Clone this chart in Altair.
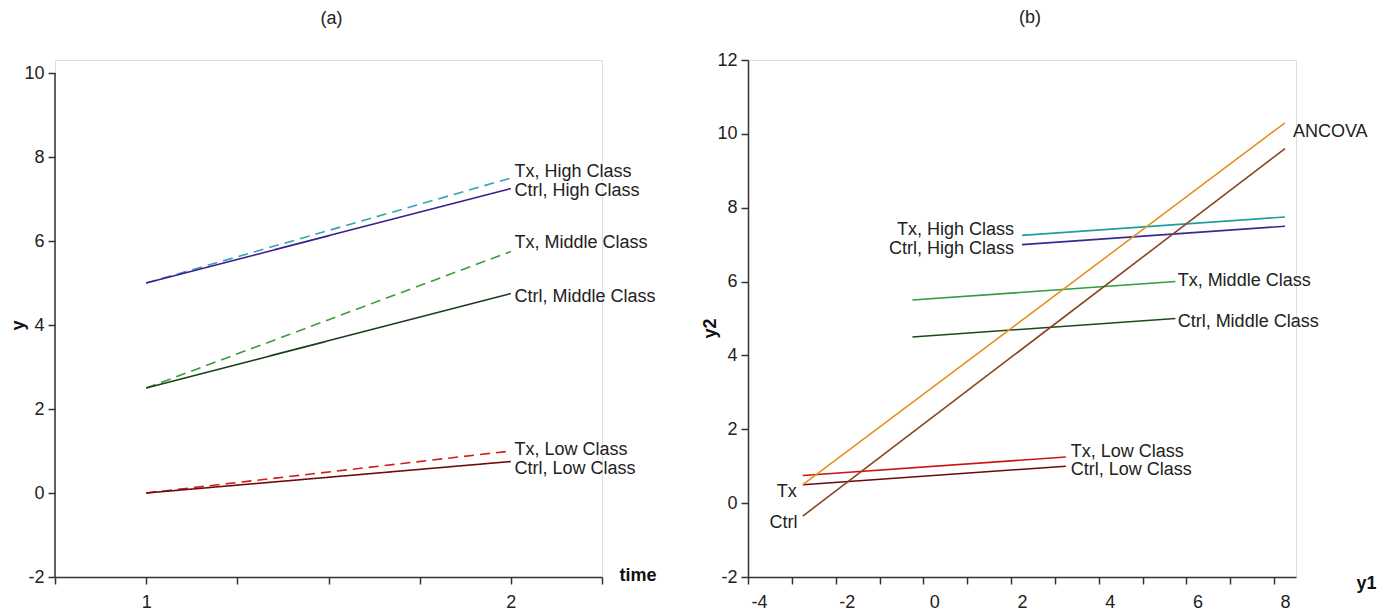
import altair as alt
import pandas as pd

FONT = "Liberation Sans"
FS = 18

# ---------------- Panel (a) data ----------------
a_series = ["Tx, High Class", "Ctrl, High Class", "Tx, Middle Class",
            "Ctrl, Middle Class", "Tx, Low Class", "Ctrl, Low Class"]
a_time_start = [1, 1, 1, 1, 1, 1]
a_time_end = [2, 2, 2, 2, 2, 2]
a_y_start = [5.0, 5.0, 2.5, 2.5, 0.0, 0.0]
a_y_end = [7.5, 7.25, 5.75, 4.75, 1.0, 0.75]
a_style = ["dash", "solid", "dash", "solid", "dash", "solid"]
a_colors = ["#35a3b3", "#3b1f8f", "#3a9e3a", "#1d3d1d", "#d41c1c", "#6e0c0c"]
a_label_x = [2.01, 2.01, 2.01, 2.01, 2.01, 2.01]
a_label_y = [7.64, 7.19, 5.95, 4.67, 1.02, 0.57]

# ---------------- Panel (b) data ----------------
b_series = ["Tx, High Class", "Ctrl, High Class", "Tx, Middle Class",
            "Ctrl, Middle Class", "Tx, Low Class", "Ctrl, Low Class",
            "ANCOVA Tx", "ANCOVA Ctrl"]
b_x_start = [2.0, 2.0, -0.5, -0.5, -3.0, -3.0, -3.0, -3.0]
b_x_end = [8.0, 8.0, 5.5, 5.5, 3.0, 3.0, 8.0, 8.0]
b_y_start = [7.25, 7.0, 5.5, 4.5, 0.75, 0.5, 0.5, -0.35]
b_y_end = [7.75, 7.5, 6.0, 5.0, 1.25, 1.0, 10.3, 9.6]
b_colors = ["#1f9e9e", "#3b2894", "#2e9e3e", "#1a4a1a", "#cc1414", "#6a0a0a",
            "#e8901e", "#8b4420"]

b_label_text_r = ["Tx, High Class", "Ctrl, High Class", "Tx", "Ctrl"]
b_label_x_r = [1.82, 1.82, -3.14, -3.12]
b_label_y_r = [7.39, 6.88, 0.30, -0.54]

b_label_text_l = ["Tx, Middle Class", "Ctrl, Middle Class", "Tx, Low Class",
                  "Ctrl, Low Class", "ANCOVA"]
b_label_x_l = [5.55, 5.55, 3.11, 3.11, 8.18]
b_label_y_l = [6.01, 4.90, 1.38, 0.90, 10.04]

a_xticks = [0.75, 1.0, 1.25, 1.5, 1.75, 2.0, 2.25]
a_yticks = [-2, 0, 2, 4, 6, 8, 10]
a_ydomain = [-2, 10.31]
b_xticks = [-4.25 + 0.5 * k for k in range(26)]
b_yticks = [-2, 0, 2, 4, 6, 8, 10, 12]

# ---------------- build tables ----------------
a_rows = []
for s, x0, x1, y0, y1, st in zip(a_series, a_time_start, a_time_end, a_y_start, a_y_end, a_style):
    a_rows.append({"series": s, "x": x0, "y": y0, "style": st})
    a_rows.append({"series": s, "x": x1, "y": y1, "style": st})
a_df = pd.DataFrame(a_rows)
a_lab = pd.DataFrame({"text": a_series, "x": a_label_x, "y": a_label_y})
a_axis_line = pd.DataFrame({"x": [a_xticks[0]], "y": [a_yticks[0]], "y2": [a_yticks[-1]]})

b_rows = []
for s, x0, x1, y0, y1 in zip(b_series, b_x_start, b_x_end, b_y_start, b_y_end):
    b_rows.append({"series": s, "x": x0, "y": y0})
    b_rows.append({"series": s, "x": x1, "y": y1})
b_df = pd.DataFrame(b_rows)
b_lab_r = pd.DataFrame({"text": b_label_text_r, "x": b_label_x_r, "y": b_label_y_r})
b_lab_l = pd.DataFrame({"text": b_label_text_l, "x": b_label_x_l, "y": b_label_y_l})

AXIS_COLOR = "#333333"
TEXT_COLOR = "#222222"
axis_common = dict(
    grid=False, domainColor=AXIS_COLOR, tickColor=AXIS_COLOR, domainWidth=1.5,
    tickWidth=1.5, tickSize=7, labelFont=FONT, labelFontSize=FS,
    labelColor=TEXT_COLOR, titleFont=FONT, titleFontSize=FS, titleFontWeight="bold",
    titleColor="#111111", labelOverlap=False, labelFlush=False,
)

# ---------------- Panel (a) ----------------
a_x = alt.X("x:Q", scale=alt.Scale(domain=[0.75, 2.25], nice=False, zero=False),
            axis=alt.Axis(values=a_xticks, title="time",
                          labelExpr="(datum.value == 1 || datum.value == 2) ? ('' + datum.value) : ''",
                          titleX=564, titleY=-2, titleAlign="left", titleBaseline="middle",
                          titleAngle=0, labelPadding=9, **axis_common))
a_y = alt.Y("y:Q", scale=alt.Scale(domain=a_ydomain, nice=False, zero=False),
            axis=alt.Axis(values=a_yticks, labelExpr="'' + datum.value", title="y",
                          titleX=-37, titleY=265, domain=False,
                          titleAlign="center", titleBaseline="middle", labelPadding=4,
                          **axis_common))

a_lines = alt.Chart(a_df).mark_line(strokeWidth=1.6).encode(
    x=a_x, y=a_y,
    color=alt.Color("series:N", scale=alt.Scale(domain=a_series, range=a_colors), legend=None),
    strokeDash=alt.StrokeDash("style:N", scale=alt.Scale(domain=["dash", "solid"], range=[[10, 6], [1, 0]]), legend=None),
    detail="series:N",
)
a_yline = alt.Chart(a_axis_line).mark_rule(color=AXIS_COLOR, strokeWidth=1.5).encode(
    x="x:Q", y="y:Q", y2="y2:Q")
a_text = alt.Chart(a_lab).mark_text(align="left", baseline="middle", font=FONT,
                                    fontSize=FS, color=TEXT_COLOR).encode(
    x="x:Q", y="y:Q", text="text:N")

chart_a = alt.layer(a_lines, a_yline, a_text).properties(
    width=547, height=517,
    title=alt.TitleParams("(a)", font=FONT, fontSize=FS, fontWeight="normal",
                          color=TEXT_COLOR, anchor="middle", frame="group", offset=32, dx=3),
)

# ---------------- Panel (b) ----------------
b_x = alt.X("x:Q", scale=alt.Scale(domain=[-4.25, 8.25], nice=False, zero=False),
            axis=alt.Axis(values=b_xticks, title="y1",
                          labelExpr="abs((datum.value + 0.25) % 2) < 0.001 ? ('' + (datum.value + 0.25)) : ''",
                          labelOffset=11, titleX=608, titleY=6, titleAlign="left",
                          titleBaseline="middle", titleAngle=0, labelPadding=9, **axis_common))
b_y = alt.Y("y:Q", scale=alt.Scale(domain=[-2, 12], nice=False, zero=False),
            axis=alt.Axis(values=b_yticks, labelExpr="'' + datum.value", title="y2",
                          titleX=-38, titleY=268,
                          titleAlign="center", titleBaseline="middle", labelPadding=4,
                          **axis_common))

b_lines = alt.Chart(b_df).mark_line(strokeWidth=1.6).encode(
    x=b_x, y=b_y,
    color=alt.Color("series:N", scale=alt.Scale(domain=b_series, range=b_colors), legend=None),
    detail="series:N",
)
b_text_r = alt.Chart(b_lab_r).mark_text(align="right", baseline="middle", font=FONT,
                                        fontSize=FS, color=TEXT_COLOR).encode(
    x="x:Q", y="y:Q", text="text:N")
b_text_l = alt.Chart(b_lab_l).mark_text(align="left", baseline="middle", font=FONT,
                                        fontSize=FS, color=TEXT_COLOR).encode(
    x="x:Q", y="y:Q", text="text:N")

chart_b = alt.layer(b_lines, b_text_r, b_text_l).properties(
    width=548, height=517,
    title=alt.TitleParams("(b)", font=FONT, fontSize=FS, fontWeight="normal",
                          color=TEXT_COLOR, anchor="middle", frame="group", offset=24, dx=8),
)

chart = alt.hconcat(chart_a, chart_b, spacing=43).resolve_scale(
    color="independent", x="independent", y="independent"
).properties(
    padding={"left": 0, "top": 0, "right": 0, "bottom": 0}
).configure_view(stroke=None).configure(background="white")

chart.save("out.html", embed_options={"renderer": "svg", "actions": False})
